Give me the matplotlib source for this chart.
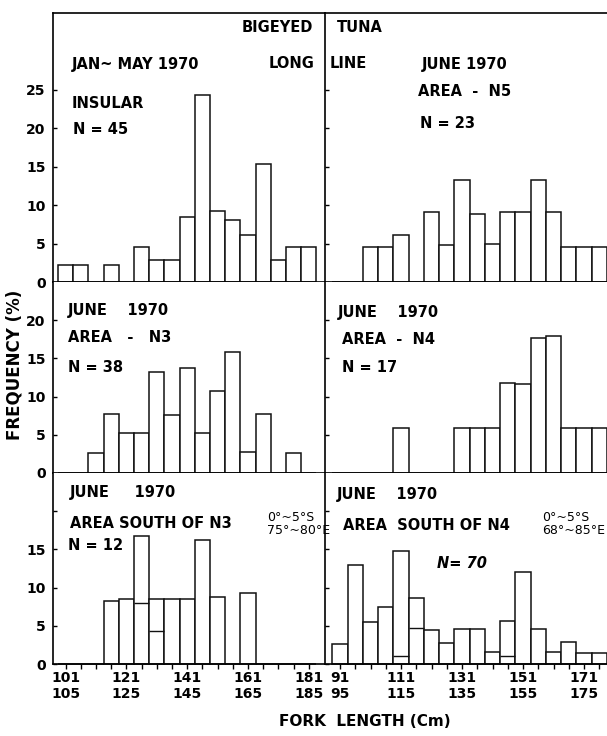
"""
Bigeyed tuna longline catch - fork length frequency, Jan-Jun 1970.
Six step histograms in a 3 x 2 grid sharing a hand-lettered frame.
"""
import matplotlib
matplotlib.use("Agg")
import matplotlib.pyplot as plt
import numpy as np

plt.rcParams["font.family"] = ["DejaVu Sans"]
plt.rcParams["font.weight"] = "bold"

# ---------------------------------------------------------------------------
# Data (percent frequency per 5 cm class)
# ---------------------------------------------------------------------------
# left column: classes 101-105 ... 181-185
LEFT_TICKLABELS = ["101\n105", "121\n125", "141\n145", "161\n165", "181\n185"]
# right column: classes 91-95 ... 176-180
RIGHT_TICKLABELS = ["91\n95", "111\n115", "131\n135", "151\n155", "171\n175"]

INSULAR = [2.2, 2.2, 0, 2.2, 0, 4.5, 2.9, 2.9, 8.5, 24.3, 9.2, 8.1, 6.1,
           15.3, 2.9, 4.5, 4.5]
AREA_N5 = [0, 0, 4.5, 4.5, 6.1, 0, 9.1, 4.8, 13.3, 8.9, 4.9, 9.1, 9.1,
           13.3, 9.1, 4.5, 4.5, 4.5]
AREA_N3 = [0, 0, 2.6, 7.7, 5.3, 5.3, 13.2, 7.6, 13.8, 5.3, 10.7, 15.9, 2.7,
           7.7, 0, 2.6, 0]
AREA_N4 = [0, 0, 0, 0, 5.9, 0, 0, 0, 5.9, 5.9, 5.9, 11.8, 11.6, 17.7, 17.9,
           5.9, 5.9, 5.9]
SOUTH_N3 = [0, 0, 0, 8.2, 8.5, 16.7, 8.5, 8.5, 8.5, 16.2, 8.8, 0, 9.3, 0, 0,
            0, 0]
SOUTH_N3_INNER = [0, 0, 0, 0, 0, 8.0, 4.3, 0, 0, 0, 0, 0, 0, 0, 0, 0, 0]
SOUTH_N4 = [2.6, 12.9, 5.5, 7.5, 14.8, 8.6, 4.4, 2.8, 4.6, 4.6, 1.6, 5.6,
            12.1, 4.6, 1.6, 2.9, 1.5, 1.5]
SOUTH_N4_INNER = [0, 0, 0, 0, 1.0, 4.7, 0, 0, 0, 0, 0, 1.0, 0, 0, 0, 0, 0, 0]

# ---------------------------------------------------------------------------
# Layout (pixels of a 607 x 736 canvas)
# ---------------------------------------------------------------------------
W, H = 607, 736
X_LEFT, X_MID, X_RIGHT = 52.5, 325, 607
ROWS = [(13, 282, 35), (282, 473, 25), (473, 664, 25)]   # top, bottom, ymax


def fx(x):
    return x / W


def fy(y):
    return 1 - y / H


def make_ax(fig, x0, x1, y0, y1):
    return fig.add_axes([fx(x0), fy(y1), fx(x1 - x0), (y1 - y0) / H])


def histo(ax, values, inner=None):
    pos = np.arange(len(values))
    ax.bar(pos, values, width=1.0, align="edge", facecolor="white",
           edgecolor="#111111", linewidth=1.1, clip_on=False, zorder=2)
    if inner is not None:
        for i, v in enumerate(inner):
            if v > 0:
                ax.hlines(v, pos[i], pos[i] + 1, color="#111111",
                          linewidth=1.0, zorder=3)
    ax.set_xticks(pos + 0.5)
    ax.tick_params(axis="x", direction="out", length=3.5, width=1.0,
                   pad=1.5, labelsize=10)
    ax.tick_params(axis="y", direction="in", length=3, width=1.0,
                   pad=5, labelsize=10)
    ax.spines["right"].set_visible(False)
    for side in ["left", "bottom", "top"]:
        ax.spines[side].set_linewidth(1.2)


fig = plt.figure(figsize=(W / 100, H / 100), dpi=100)

panels = [
    (0, "L", INSULAR, None), (0, "R", AREA_N5, None),
    (1, "L", AREA_N3, None), (1, "R", AREA_N4, None),
    (2, "L", SOUTH_N3, SOUTH_N3_INNER), (2, "R", SOUTH_N4, SOUTH_N4_INNER),
]

for row, side, vals, inner in panels:
    y0, y1, ymax = ROWS[row]
    if side == "L":
        ax = make_ax(fig, X_LEFT, X_MID, y0, y1)
        histo(ax, vals, inner)
        ax.set_xlim(-0.36, 17.57)
    else:
        ax = make_ax(fig, X_MID, X_RIGHT, y0, y1)
        histo(ax, vals, inner)
        ax.set_xlim(-0.49, 18.0)
    ax.set_ylim(0, ymax)
    ax.spines["top"].set_visible(row == 0)

    if row == 0:
        yt = [0, 5, 10, 15, 20, 25]
    else:
        yt = [0, 5, 10, 15, 20]
    ax.set_yticks(yt)
    if side == "L":
        labels = [str(v) for v in yt]
        if row == 2:
            labels[-1] = ""
        ax.set_yticklabels(labels)
    else:
        ax.set_yticklabels([])

    if row == 2:
        names = LEFT_TICKLABELS if side == "L" else RIGHT_TICKLABELS
        lab = [""] * len(vals)
        for k, name in enumerate(names):
            lab[k * 4] = name
        ax.set_xticklabels(lab, linespacing=1.15)
    else:
        ax.set_xticklabels([])

# ---------------------------------------------------------------------------
# Hand-lettered annotations
# ---------------------------------------------------------------------------
TXT = dict(fontsize=10.5, fontweight="bold", va="center")
fig.text(fx(313), fy(28), "BIGEYED", ha="right", **TXT)
fig.text(fx(337), fy(28), "TUNA", ha="left", **TXT)
fig.text(fx(72), fy(64), "JAN~ MAY 1970", ha="left", **TXT)
fig.text(fx(315), fy(64), "LONG", ha="right", **TXT)
fig.text(fx(330), fy(64), "LINE", ha="left", **TXT)
fig.text(fx(72), fy(103), "INSULAR", ha="left", **TXT)
fig.text(fx(73), fy(129), "N = 45", ha="left", **TXT)
fig.text(fx(422), fy(64), "JUNE 1970", ha="left", **TXT)
fig.text(fx(418), fy(91), "AREA  -  N5", ha="left", **TXT)
fig.text(fx(420), fy(123), "N = 23", ha="left", **TXT)

fig.text(fx(68), fy(310), "JUNE    1970", ha="left", **TXT)
fig.text(fx(68), fy(338), "AREA   -   N3", ha="left", **TXT)
fig.text(fx(68), fy(368), "N = 38", ha="left", **TXT)
fig.text(fx(338), fy(312), "JUNE    1970", ha="left", **TXT)
fig.text(fx(342), fy(339), "AREA  -  N4", ha="left", **TXT)
fig.text(fx(342), fy(368), "N = 17", ha="left", **TXT)

fig.text(fx(70), fy(493), "JUNE     1970", ha="left", **TXT)
fig.text(fx(70), fy(523), "AREA SOUTH OF N3", ha="left", **TXT)
fig.text(fx(68), fy(546), "N = 12", ha="left", **TXT)
fig.text(fx(337), fy(495), "JUNE    1970", ha="left", **TXT)
fig.text(fx(343), fy(525), "AREA  SOUTH OF N4", ha="left", **TXT)
fig.text(fx(437), fy(563), "N= 70", ha="left", fontsize=10.5,
         fontweight="bold", fontstyle="italic", va="center")

COORD = dict(fontsize=9, fontweight="normal", va="center", ha="left",
             linespacing=0.95)
fig.text(fx(267), fy(524), "0°~5°S\n75°~80°E", **COORD)
fig.text(fx(542), fy(524), "0°~5°S\n68°~85°E", **COORD)

fig.text(fx(365), fy(722), "FORK  LENGTH (Cm)", ha="center", va="center",
         fontsize=11, fontweight="bold")
fig.text(fx(15), fy(365), "FREQUENCY (%)", ha="center", va="center",
         rotation=90, fontsize=12, fontweight="bold")

fig.savefig("out.png", dpi=100)
